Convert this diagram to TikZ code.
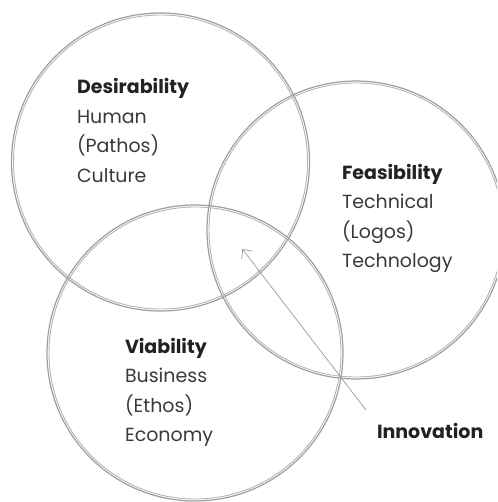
\documentclass[tikz,border=0pt]{standalone}
\usepackage{fontspec}
\setmainfont{Poppins}
\usetikzlibrary{arrows.meta}
\definecolor{ringout}{HTML}{9E9E9E}
\definecolor{ringin}{HTML}{B4B4B4}
\definecolor{titlecol}{HTML}{222222}
\definecolor{bodycol}{HTML}{3A3A3A}
\definecolor{arrowcol}{HTML}{999999}
\begin{document}
\begin{tikzpicture}[x=1pt,y=-1pt,
  ring/.style={circle,draw=ringout,line width=1.2pt,minimum size=298pt,inner sep=0pt,outer sep=0pt},
  innerring/.style={draw=ringin,line width=0.9pt},
  label/.style={anchor=base west,align=left,inner sep=0pt,outer sep=0pt,
    font=\fontsize{19}{29.5}\selectfont,text=bodycol},
  pointer/.style={draw=arrowcol,line width=0.7pt,-{Straight Barb[length=7pt,width=13pt]}}
]
\useasboundingbox (0,0) rectangle (497,502);
\begin{scope}
\clip (0,0) rectangle (497,502);
\node[ring] (des) at (160.5,162) {};
\node[ring] (fea) at (356,230) {};
\node[ring,minimum size=296pt] (via) at (195,353) {};
\draw[innerring] (des.center) circle (147.0);
\draw[innerring] (fea.center) circle (147.0);
\draw[innerring] (via.center) circle (146.0);
\end{scope}

\node[label] (destxt) at (77,182.5) {{\color{titlecol}\bfseries Desirability}\\Human\\(Pathos)\\Culture};
\node[label] (featxt) at (342,267.5) {{\color{titlecol}\bfseries Feasibility}\\Technical\\(Logos)\\Technology};
\node[label] (viatxt) at (125,441.5) {{\color{titlecol}\bfseries Viability}\\Business\\(Ethos)\\Economy};
\node[label,text=titlecol,font=\fontsize{19}{29.5}\selectfont\bfseries] (inno) at (377,438) {Innovation};

\coordinate (tail) at (366,410);
\coordinate (core) at (242.3,249);
\draw[pointer] (tail) -- (core);
\end{tikzpicture}
\end{document}
